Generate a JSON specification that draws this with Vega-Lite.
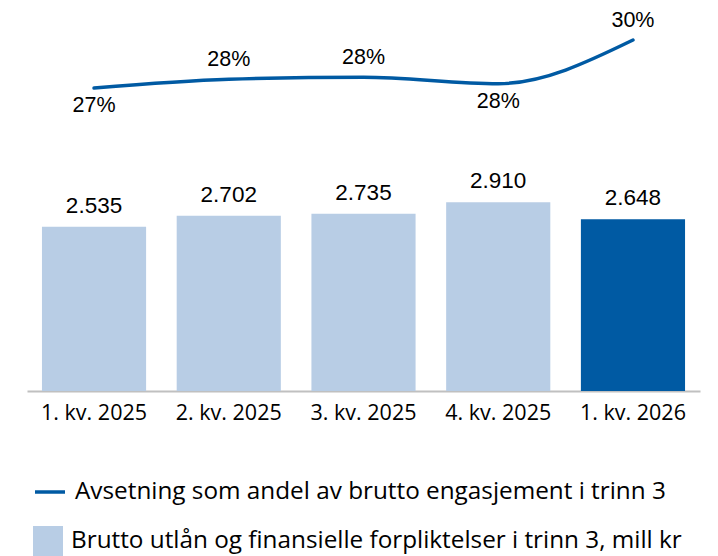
{
  "$schema": "https://vega.github.io/schema/vega-lite/v6.json",
  "width": 673,
  "height": 378,
  "padding": {"left": 27, "top": 10, "right": 5, "bottom": 5},
  "background": "white",
  "config": {
    "view": {"stroke": null},
    "font": "Open Sans",
    "locale": {"number": {"decimal": ",", "thousands": ".", "grouping": [3], "currency": ["", " kr"]}}
  },
  "data": {
    "values": [
      {"quarter": "1. kv. 2025", "amount": 2535, "share": 0.274},
      {"quarter": "2. kv. 2025", "amount": 2702, "share": 0.278},
      {"quarter": "3. kv. 2025", "amount": 2735, "share": 0.279},
      {"quarter": "4. kv. 2025", "amount": 2910, "share": 0.276},
      {"quarter": "1. kv. 2026", "amount": 2648, "share": 0.296}
    ]
  },
  "encoding": {
    "x": {
      "field": "quarter", "type": "nominal", "sort": null,
      "scale": {"paddingInner": 0.227, "paddingOuter": 0.111},
      "axis": {"title": null, "labelAngle": 0, "labelFontSize": 21.5, "labelColor": "#000000", "labelFont": "Open Sans",
               "domainColor": "#c0c0c0", "domainWidth": 2, "ticks": false, "labelPadding": 11}
    }
  },
  "layer": [
    {
      "mark": {"type": "bar"},
      "encoding": {
        "y": {"field": "amount", "type": "quantitative", "scale": {"domain": [0, 5830]}, "axis": null},
        "fill": {
          "condition": {"test": "datum.quarter === '1. kv. 2026'", "value": "#005aa3"},
          "datum": "Brutto utlån og finansielle forpliktelser i trinn 3, mill kr",
          "scale": {"range": ["#b8cde5"]},
          "legend": {"title": null, "orient": "none", "legendX": 6, "legendY": 513, "symbolType": "square",
                     "symbolSize": 900, "symbolStrokeWidth": 0, "labelFontSize": 24.3, "labelFont": "Open Sans",
                     "labelColor": "#000000", "labelLimit": 700, "labelOffset": 8}
        }
      }
    },
    {
      "mark": {"type": "text", "baseline": "alphabetic", "dy": -14, "fontSize": 22.5, "font": "Liberation Sans", "color": "#000000"},
      "encoding": {
        "y": {"field": "amount", "type": "quantitative", "scale": {"domain": [0, 5830]}, "axis": null},
        "text": {"field": "amount", "type": "quantitative", "format": ",d"}
      }
    },
    {
      "mark": {"type": "line", "interpolate": "monotone", "strokeWidth": 3.5, "strokeCap": "round"},
      "encoding": {
        "y": {"field": "share", "type": "quantitative", "scale": {"domain": [0.1351, 0.3084]}, "axis": null},
        "stroke": {
          "datum": "Avsetning som andel av brutto engasjement i trinn 3",
          "scale": {"range": ["#005aa3"]},
          "legend": {"title": null, "orient": "none", "legendX": 6, "legendY": 462, "symbolType": "stroke",
                     "symbolSize": 900, "symbolStrokeWidth": 3.5, "labelFontSize": 24.3, "labelFont": "Open Sans",
                     "labelColor": "#000000", "labelLimit": 700, "labelOffset": 8}
        }
      }
    },
    {
      "transform": [{"filter": "datum.quarter === '1. kv. 2025' || datum.quarter === '4. kv. 2025'"}],
      "mark": {"type": "text", "baseline": "middle", "dy": 18, "fontSize": 21.5, "font": "Liberation Sans", "color": "#000000"},
      "encoding": {
        "y": {"field": "share", "type": "quantitative", "scale": {"domain": [0.1351, 0.3084]}, "axis": null},
        "text": {"field": "share", "type": "quantitative", "format": ".0%"}
      }
    },
    {
      "transform": [{"filter": "datum.quarter !== '1. kv. 2025' && datum.quarter !== '4. kv. 2025'"}],
      "mark": {"type": "text", "baseline": "middle", "dy": -19, "fontSize": 21.5, "font": "Liberation Sans", "color": "#000000"},
      "encoding": {
        "y": {"field": "share", "type": "quantitative", "scale": {"domain": [0.1351, 0.3084]}, "axis": null},
        "text": {"field": "share", "type": "quantitative", "format": ".0%"}
      }
    }
  ],
  "resolve": {"scale": {"y": "independent"}}
}
